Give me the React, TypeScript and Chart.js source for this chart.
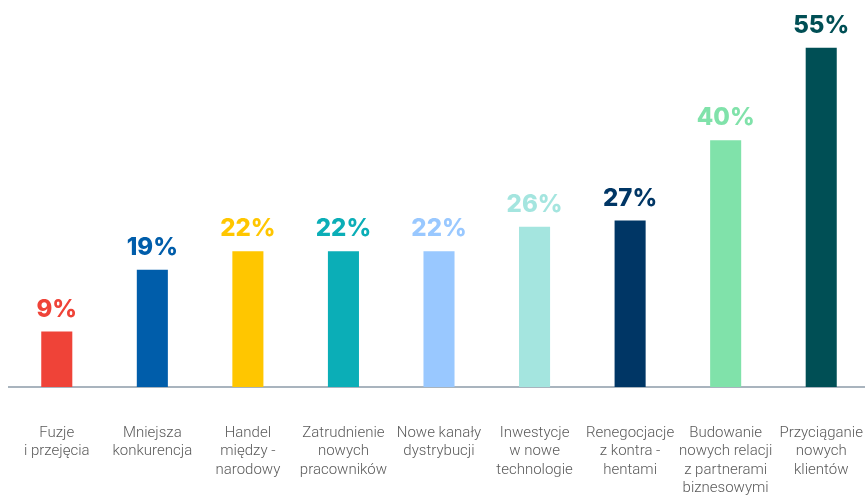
import React, { useEffect, useRef } from "react";
import { Chart, registerables } from "chart.js";

Chart.register(...registerables);

const categories: string[][] = [
  ["Fuzje", "i przejęcia"],
  ["Mniejsza", "konkurencja"],
  ["Handel", "między -", "narodowy"],
  ["Zatrudnienie", "nowych", "pracowników"],
  ["Nowe kanały", "dystrybucji"],
  ["Inwestycje", "w nowe", "technologie"],
  ["Renegocjacje", "z kontra -", "hentami"],
  ["Budowanie", "nowych relacji", "z partnerami", "biznesowymi"],
  ["Przyciąganie", "nowych", "klientów"],
];

const values: number[] = [9, 19, 22, 22, 22, 26, 27, 40, 55];

const barColors: string[] = [
  "#EF4338",
  "#005DAA",
  "#FFC600",
  "#0BAEB7",
  "#99C8FF",
  "#A4E5DF",
  "#003665",
  "#80E2AA",
  "#004F55",
];

const valueLabelPlugin = {
  id: "valueLabels",
  afterDatasetsDraw(chart: any) {
    const ctx = chart.ctx;
    const meta = chart.getDatasetMeta(0);
    ctx.save();
    ctx.font = "800 24px Inter, 'DejaVu Sans', sans-serif";
    ctx.textAlign = "center";
    ctx.textBaseline = "alphabetic";
    meta.data.forEach((bar: any, i: number) => {
      ctx.fillStyle = barColors[i];
      ctx.fillText(values[i] + "%", bar.x, bar.y - 15);
    });
    ctx.restore();
  },
};

export default function App() {
  const canvasRef = useRef<HTMLCanvasElement | null>(null);

  useEffect(() => {
    if (!canvasRef.current) return;
    const chart = new Chart(canvasRef.current, {
      type: "bar",
      data: {
        labels: categories,
        datasets: [
          {
            data: values,
            backgroundColor: barColors,
            borderWidth: 0,
            categoryPercentage: 1,
            barPercentage: 0.325,
          },
        ],
      },
      options: {
        responsive: false,
        animation: false,
        layout: { padding: { left: 9, right: 0, top: 17, bottom: 0 } },
        plugins: {
          legend: { display: false },
          tooltip: { enabled: false },
        },
        scales: {
          x: {
            grid: { display: false, drawTicks: false },
            border: { display: true, color: "#A9B4BE", width: 2 },
            ticks: {
              color: "#5A5A5A",
              font: { family: "Roboto", size: 15, weight: "300", lineHeight: 1.23 },
              padding: 37,
              maxRotation: 0,
              autoSkip: false,
            },
            afterFit: (scale: any) => {
              scale.height = 113;
              scale.paddingLeft = 0;
              scale.paddingRight = 0;
            },
          },
          y: {
            display: false,
            min: 0,
            max: 60,
          },
        },
      },
      plugins: [valueLabelPlugin],
    });
    return () => chart.destroy();
  }, []);

  return (
    <div
      style={{
        position: "absolute",
        left: 0,
        top: 0,
        width: 865,
        height: 500,
        overflow: "hidden",
        background: "#fff",
      }}
    >
      <canvas ref={canvasRef} width={869} height={500} style={{ display: "block" }} />
    </div>
  );
}
